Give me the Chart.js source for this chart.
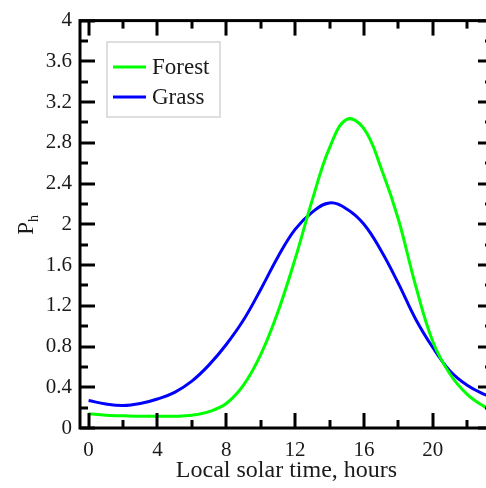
<!DOCTYPE html>
<html>
<head>
<meta charset="utf-8">
<script src="https://cdn.jsdelivr.net/npm/chart.js@4.4.1/dist/chart.umd.min.js"></script>
<style>
html,body{margin:0;padding:0;overflow:hidden;background:#fff;width:486px;height:488px;}
canvas{display:block;}
</style>
</head>
<body>
<canvas id="c" width="500" height="488"></canvas>
<script>
const hours = [0,1,2,3,4,5,6,7,8,9,10,11,12,13,14,15,16,17,18,19,20,21,22,23,23.5];
const forest = [0.14,0.125,0.12,0.115,0.115,0.115,0.125,0.16,0.24,0.42,0.72,1.14,1.66,2.24,2.75,3.03,2.94,2.55,2.05,1.40,0.85,0.53,0.33,0.21,0.17];
const grass = [0.27,0.235,0.22,0.24,0.285,0.35,0.46,0.62,0.82,1.06,1.36,1.68,1.95,2.12,2.21,2.15,2.00,1.74,1.42,1.07,0.79,0.56,0.42,0.33,0.30];
const seriesNames = ['Forest','Grass'];
const seriesColors = ['#00ff00','#0000ff'];
const xMajorTicks = [0,4,8,12,16,20];
const xMinorTicks = [2,6,10,14,18,22];
const yMajorTicks = [0,0.4,0.8,1.2,1.6,2,2.4,2.8,3.2,3.6,4];
const yTickLabels = ['0','0.4','0.8','1.2','1.6','2','2.4','2.8','3.2','3.6','4'];
const yMinorTicks = [0.2,0.6,1.0,1.4,1.8,2.2,2.6,3.0,3.4,3.8];
const xTitle = 'Local solar time, hours';
const yTitleMain = 'P';
const yTitleSub = 'h';

const FONT = '"Liberation Serif","Times New Roman",serif';
const INK = '#1a1a1a';

const framePlugin = {
  id: 'frame',
  afterDatasetsDraw(chart) {
    const ctx = chart.ctx, a = chart.chartArea;
    const xs = chart.scales.x, ys = chart.scales.y;
    ctx.save();
    ctx.strokeStyle = '#000';
    ctx.lineCap = 'butt';
    ctx.lineWidth = 3;
    const drawX = (vals, len) => vals.forEach(v => {
      const px = Math.round(xs.getPixelForValue(v));
      ctx.beginPath(); ctx.moveTo(px, a.bottom); ctx.lineTo(px, a.bottom - len); ctx.stroke();
      ctx.beginPath(); ctx.moveTo(px, a.top); ctx.lineTo(px, a.top + len); ctx.stroke();
    });
    const drawY = (vals, len) => vals.forEach(v => {
      const py = Math.round(ys.getPixelForValue(v));
      ctx.beginPath(); ctx.moveTo(a.left, py); ctx.lineTo(a.left + len, py); ctx.stroke();
      ctx.beginPath(); ctx.moveTo(a.right, py); ctx.lineTo(a.right - len, py); ctx.stroke();
    });
    drawX(xMajorTicks, 15); drawX(xMinorTicks, 8);
    drawY(yMajorTicks, 15); drawY(yMinorTicks, 8);
    ctx.strokeRect(a.left, a.top, a.right - a.left, a.bottom - a.top);
    // y title
    ctx.fillStyle = INK;
    ctx.translate(33, (a.top + a.bottom) / 2);
    ctx.rotate(-Math.PI / 2);
    ctx.textBaseline = 'alphabetic';
    ctx.textAlign = 'left';
    ctx.font = '23px ' + FONT;
    const w = ctx.measureText(yTitleMain).width;
    ctx.fillText(yTitleMain, -w/2 - 4, 0);
    ctx.font = '14px ' + FONT;
    ctx.fillText(yTitleSub, w/2 - 4, 5);
    ctx.restore();
    // legend
    ctx.save();
    const lx = 107, ly = 42, lw = 113, lh = 75;
    ctx.fillStyle = '#fff';
    ctx.fillRect(lx, ly, lw, lh);
    ctx.strokeStyle = '#d4d4d4';
    ctx.lineWidth = 1.5;
    ctx.strokeRect(lx, ly, lw, lh);
    chart.data.datasets.forEach((ds, i) => {
      const y = 67 + i * 30;
      ctx.strokeStyle = ds.borderColor;
      ctx.lineWidth = 3;
      ctx.beginPath(); ctx.moveTo(113, y); ctx.lineTo(146, y); ctx.stroke();
      ctx.fillStyle = INK;
      ctx.font = '23px ' + FONT;
      ctx.textBaseline = 'middle';
      ctx.textAlign = 'left';
      ctx.fillText(ds.label, 152, y + 1);
    });
    ctx.restore();
  }
};

new Chart(document.getElementById('c'), {
  type: 'line',
  data: {
    datasets: [0,1].map(i => ({
      label: seriesNames[i],
      data: hours.map((h, k) => ({x: h, y: (i === 0 ? forest : grass)[k]})),
      borderColor: seriesColors[i],
      backgroundColor: seriesColors[i],
      borderWidth: 3,
      pointRadius: 0,
      tension: 0.4,
      fill: false
    }))
  },
  options: {
    responsive: false,
    animation: false,
    layout: {padding: {top: 16, right: 7, left: 0, bottom: 0}},
    plugins: {legend: {display: false}, tooltip: {enabled: false}},
    scales: {
      x: {
        type: 'linear', min: -0.5, max: 23.5,
        grid: {display: false, drawTicks: false},
        border: {display: false},
        afterBuildTicks: s => { s.ticks = xMajorTicks.map(v => ({value: v})); },
        afterFit: s => { s.height = 60; },
        ticks: {
          color: INK, font: {family: FONT, size: 21}, padding: 10,
          autoSkip: false, maxRotation: 0,
          callback: v => String(v)
        },
        title: {display: true, text: xTitle, color: INK, font: {family: FONT, size: 24}, padding: {top: 0, bottom: 3}}
      },
      y: {
        type: 'linear', min: 0, max: 4,
        grid: {display: false, drawTicks: false},
        border: {display: false},
        afterBuildTicks: s => { s.ticks = yMajorTicks.map(v => ({value: v})); },
        afterFit: s => { s.width = 80; },
        ticks: {
          color: INK, font: {family: FONT, size: 21}, padding: 8,
          autoSkip: false,
          callback: (v, idx) => yTickLabels[idx]
        }
      }
    }
  },
  plugins: [framePlugin]
});
</script>
</body>
</html>
